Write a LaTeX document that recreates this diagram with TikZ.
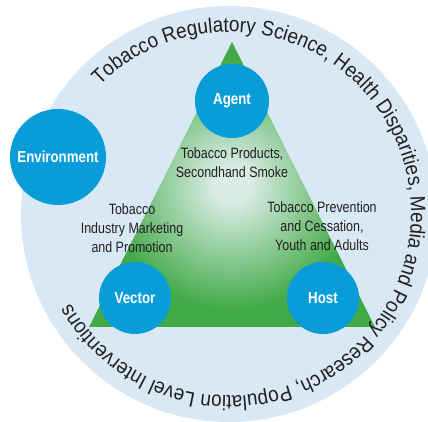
\documentclass[tikz,border=0pt]{standalone}
\usepackage{fontspec}
\setmainfont{Liberation Sans}
\newfontfamily\condfont[FakeStretch=0.83]{Liberation Sans}
\newfontfamily\arcfont[FakeStretch=0.9]{Liberation Sans}
\usetikzlibrary{decorations.text}
\definecolor{bgblue}{RGB}{216,232,245}
\definecolor{discblue}{RGB}{8,157,217}
\definecolor{trigreen}{RGB}{66,170,72}
\definecolor{trilight}{RGB}{218,236,230}
\definecolor{txt}{RGB}{35,31,32}
\pgfdeclareradialshading{trishade}{\pgfpoint{0bp}{0bp}}{color(0bp)=(trilight); color(3bp)=(trilight); color(22bp)=(trigreen); color(50bp)=(trigreen)}
\begin{document}
\begin{tikzpicture}[x=1pt,y=1pt,
  bluedisc/.style={circle, fill=discblue, inner sep=0pt, text=white,
    font=\condfont\bfseries\fontsize{16}{18}\selectfont},
  desc/.style={align=center, text=txt, inner sep=0pt,
    font=\condfont\fontsize{15}{19}\selectfont}]
\useasboundingbox (0,0) rectangle (428,422);
\fill[white] (0,0) rectangle (428,422);
\clip (0,0) rectangle (428,422);
\coordinate (c) at (229,208);
\fill[bgblue] (c) circle[radius=208pt];
\shade[shading=trishade] (89,95) -- (232,380) -- (375,95) -- cycle;
\path[decorate, decoration={text along path, text align={fit to path},
  text={|\arcfont\fontsize{21}{24}\selectfont\color{txt}|Tobacco Regulatory Science, Health Disparities, Media and Policy Research, Population Level Interventions}}]
  (c) ++(135.2:182pt) arc[start angle=135.2, end angle=-150.6, radius=182pt];
\node[bluedisc, minimum size=74pt] (agent) at (232,321) {Agent};
\node[bluedisc, minimum size=96pt] (env) at (58,265) {Environment};
\node[bluedisc, minimum size=72pt] (vector) at (135,124) {Vector};
\node[bluedisc, minimum size=72pt] (host) at (323,124) {Host};
\node[desc] (prod) at (232,259.5) {Tobacco Products,\\Secondhand Smoke};
\node[desc] (mkt) at (132,193.5) {Tobacco\\Industry Marketing\\and Promotion};
\node[desc] (prev) at (322,195.5) {Tobacco Prevention\\and Cessation,\\Youth and Adults};
\end{tikzpicture}
\end{document}
